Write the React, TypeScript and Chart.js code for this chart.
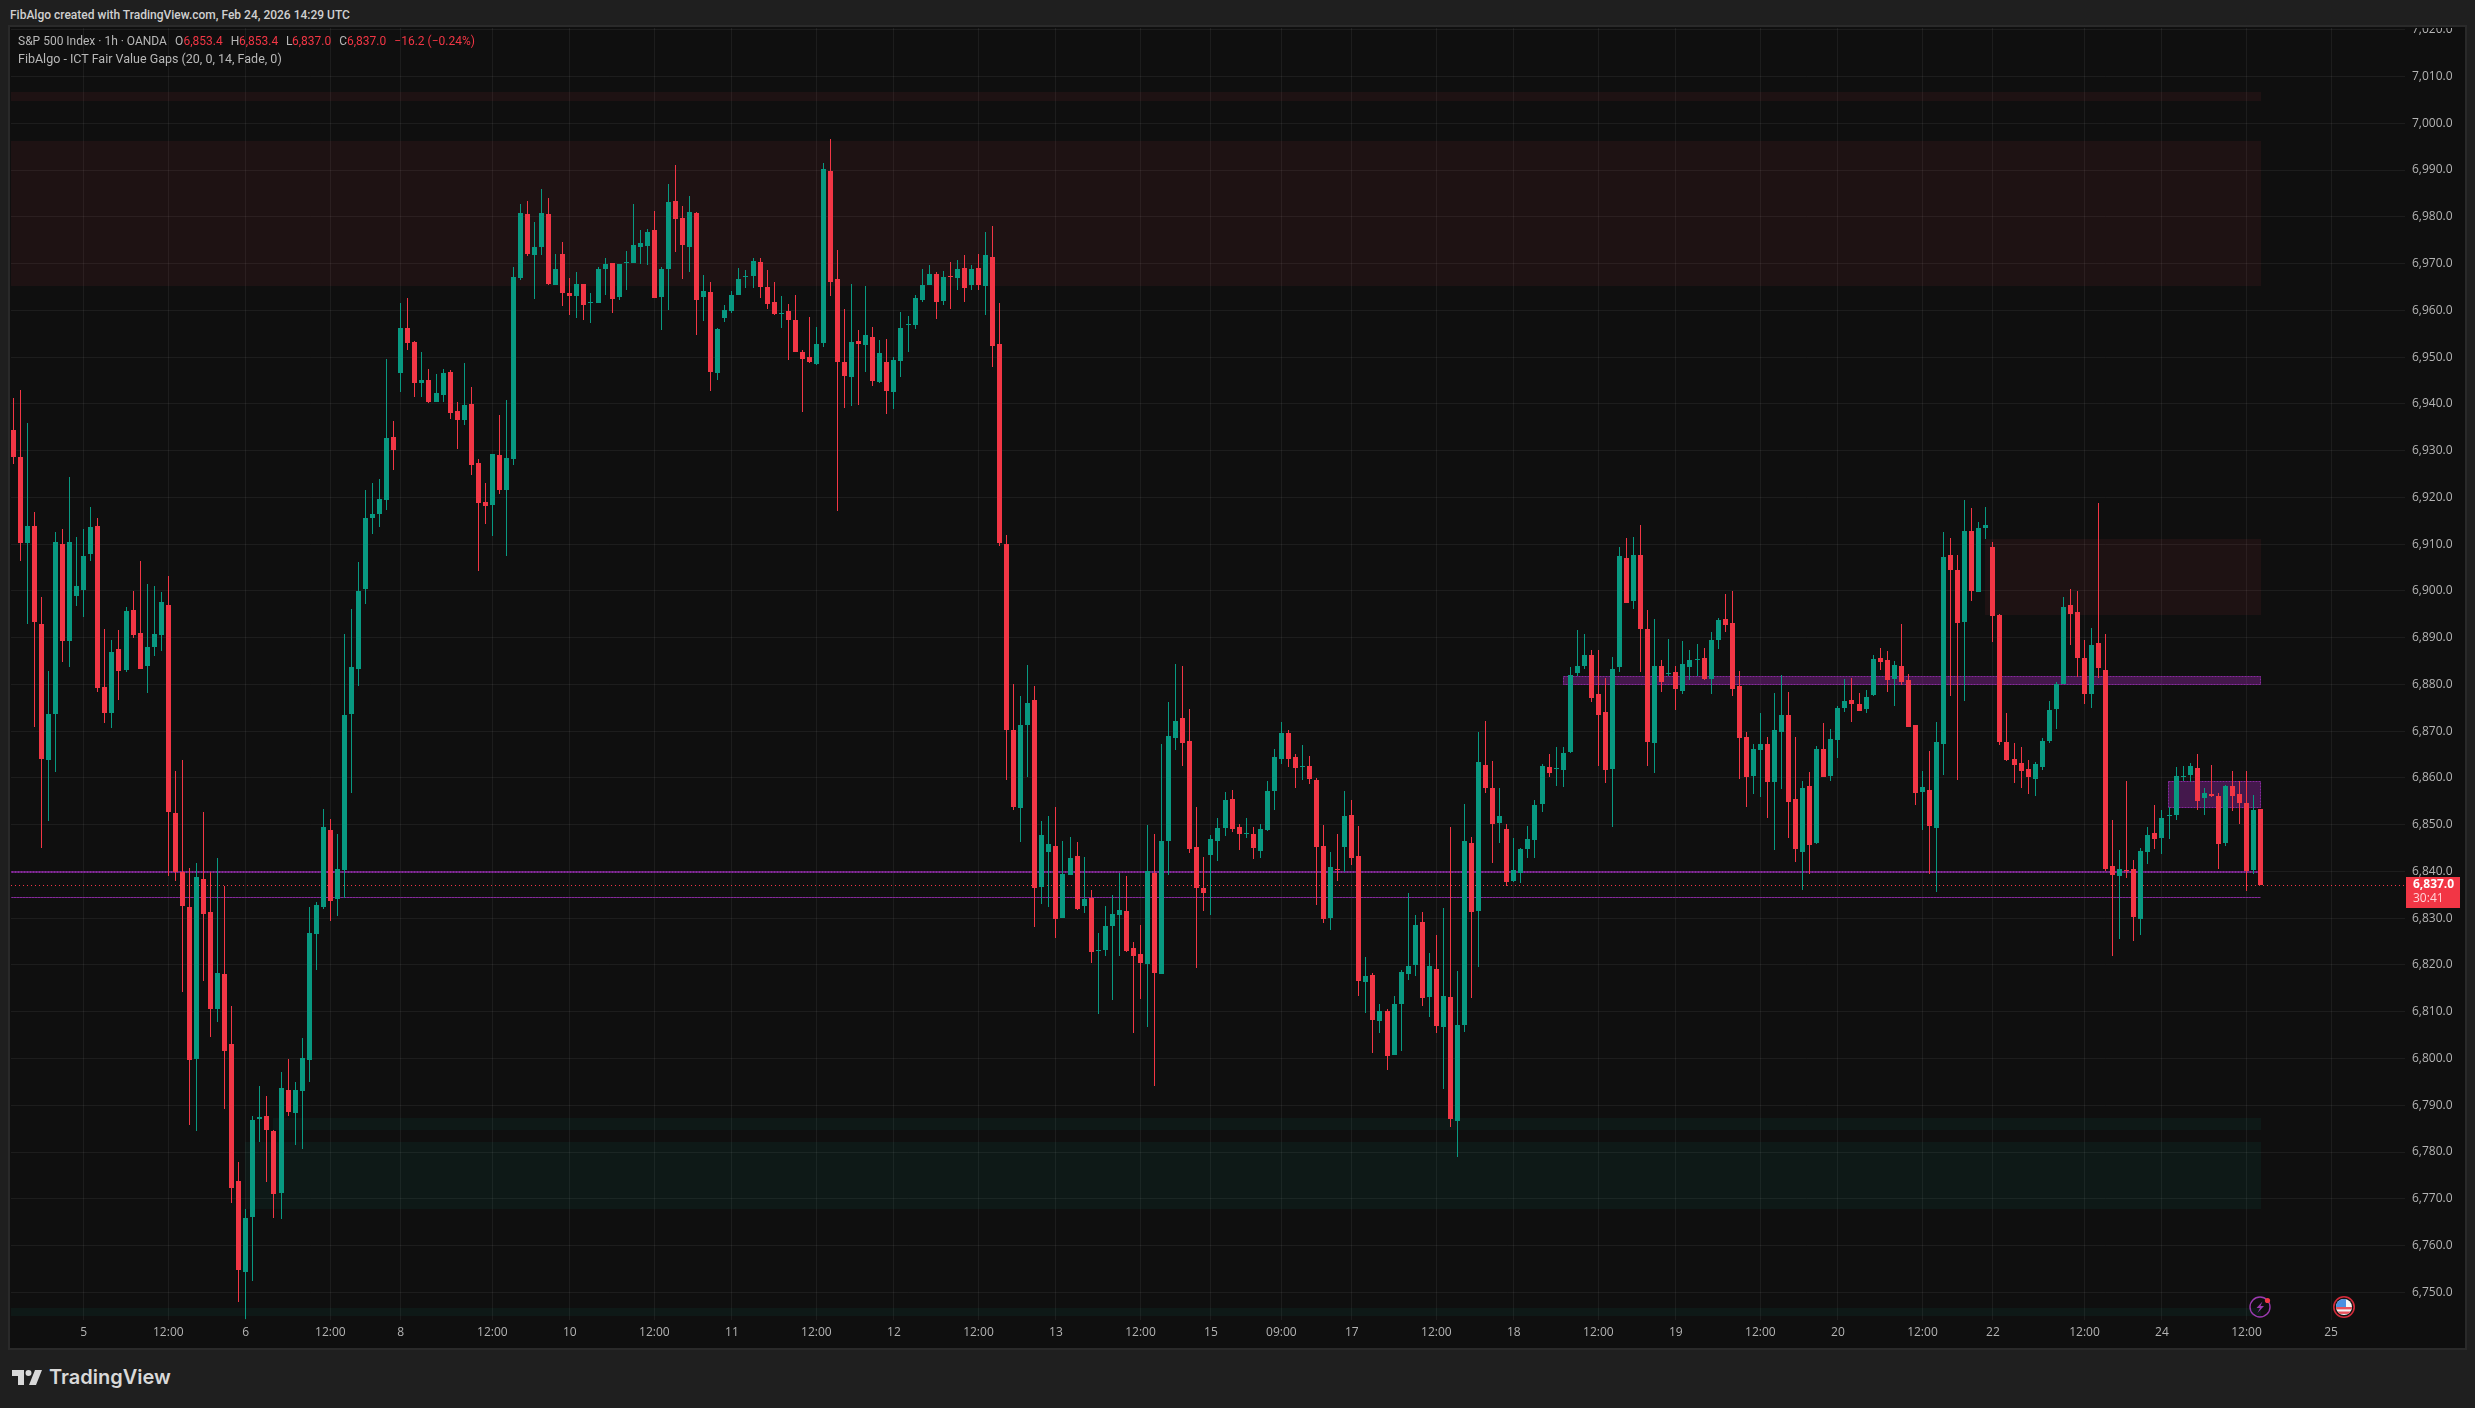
import React, { useEffect, useRef } from "react";
import { Chart, registerables } from "chart.js";

Chart.register(...registerables);

const highs = [
  6941.3,6942.9,6936,6916.9,6898.6,6882.9,6912.6,6913.2,6924.4,6911.5,
  6913.2,6918,6915.6,6891.9,6889.4,6891.6,6896.5,6900,6906.4,6901.4,
  6901,6899.7,6903.2,6861.5,6863.8,6840.8,6841.8,6852.8,6839.9,6842.8,
  6836.9,6811.2,6777.9,6767.8,6787.8,6794.1,6792,6784.7,6797.1,6799.8,
  6794.9,6804.3,6832.4,6833.4,6853.3,6851.3,6848,6890.8,6896.1,6906.2,
  6921.5,6923,6924,6949.6,6936.4,6961.6,6962.6,6953.4,6951.1,6947.5,
  6946.4,6947.5,6947.2,6940.4,6948.7,6943.6,6928.2,6923.1,6929.3,6937.6,
  6940.8,6969.3,6982.8,6983.4,6978.9,6986,6984,6972.1,6974.6,6966.9,
  6968.2,6965.6,6963.7,6969.3,6971.2,6970.1,6969.9,6972.7,6982.8,6977.2,
  6977.4,6981.3,6969.3,6987,6991.1,6982.3,6984.5,6981,6967.6,6966.1,
  6956.2,6961.2,6964.2,6969,6968.6,6971.2,6971.2,6968.6,6966.1,6963.1,
  6961.4,6963.3,6951.5,6958.6,6956.4,6991.5,6996.7,6972.9,6960.3,6965.6,
  6955.8,6965.2,6956.5,6953.7,6953.9,6950,6959.7,6958.8,6963.3,6968.9,
  6969.7,6968.2,6968.4,6970.4,6970.8,6971.8,6969.7,6972.1,6976.8,6978,
  6961.6,6911.9,6880.1,6877.6,6884.2,6879.7,6850.8,6851.9,6853.8,6846.6,
  6847.4,6846.3,6843.1,6836.1,6826.9,6832.6,6835,6839.7,6839.1,6825,
  6828.6,6850,6848,6867.3,6876.3,6884.4,6884,6874.8,6853.8,6843.1,
  6847.8,6851.5,6857,6857.5,6850.2,6851.5,6849.6,6850.2,6859.4,6866.2,
  6872,6870.3,6865.2,6867.1,6864.7,6860,6850,6844.2,6848,6857.2,
  6855.3,6849.8,6821.8,6818.3,6811.7,6810.6,6813.4,6819,6835.4,6830.7,
  6831.4,6822.6,6826.5,6832.2,6849.6,6818.8,6854.5,6847.4,6869.9,6872.2,
  6863.7,6857.8,6850.1,6847.1,6845,6849.7,6855.2,6862.9,6865.1,6866.6,
  6866.6,6883.7,6891.6,6890.7,6887.3,6887.3,6881.3,6885.8,6909.4,6911.3,
  6911.5,6914,6895.9,6893.9,6885.2,6889.7,6883.9,6889.3,6887.3,6888.6,
  6887.8,6891.2,6894.2,6899.3,6899.9,6882.8,6869.8,6867.2,6873.9,6868.7,
  6878.1,6882,6878.3,6868.7,6859.3,6861.2,6866.8,6871.7,6870.4,6875.4,
  6881.1,6881.3,6878.1,6878.8,6886.3,6887.8,6887.1,6885,6892.9,6882.2,
  6871.3,6861.4,6865.7,6871.9,6912.6,6911.3,6907.6,6919.4,6917.7,6914.7,
  6917.9,6910.4,6895,6873.9,6867.5,6866.6,6863.8,6863.4,6868.5,6876.4,
  6880.5,6898.7,6900.4,6900,6889.5,6892.1,6918.8,6890.8,6851,6844.6,
  6859.3,6842.4,6845,6849.5,6854.2,6853.1,6853.8,6862.3,6862.5,6863.2,
  6865.1,6857.8,6862.8,6856.8,6858.5,6861.5,6859.3,6861.5,6856.3,6853.4,
];

const bodyTops = [
  6934.5,6928.6,6913.9,6913.9,6892.9,6873.6,6910.4,6910,6910.4,6901,
  6907.4,6913.6,6913.9,6879.5,6886.9,6887.5,6895.7,6895.9,6890.9,6887.9,
  6890.8,6897.6,6897,6852.5,6839.9,6832.4,6838.8,6838.4,6831.3,6818.3,
  6818.1,6803.2,6773.8,6765.9,6786.9,6787.5,6787.7,6784.4,6793.8,6793.3,
  6793.3,6800.1,6826.8,6832.8,6849.5,6848.8,6840.5,6873.5,6883.7,6900,
  6915.6,6916.4,6919.6,6932.7,6933,6956.2,6956.2,6953.2,6945.1,6945.1,
  6942.3,6946.6,6946.8,6938.5,6939.8,6940,6927.4,6919,6929.3,6929.1,
  6928.4,6967.1,6980.8,6980.6,6973.6,6980.8,6980.6,6968.9,6972.1,6963.7,
  6965.6,6965.6,6961.8,6968.9,6969.9,6970.1,6969.9,6970.4,6974,6974.4,
  6976.8,6977.2,6968.9,6983.2,6983.4,6979.8,6981,6980.8,6964.1,6963.9,
  6956,6960.1,6963.3,6966.7,6967.4,6970.6,6970.4,6965,6961.8,6959.4,
  6959.9,6958,6951.1,6950,6952.8,6990.2,6989.8,6966.7,6949,6953.2,
  6953.5,6954.7,6954.3,6950.9,6949,6949.4,6956.2,6957.1,6962.7,6965.4,
  6967.8,6967.8,6967.1,6967.4,6968.9,6969.1,6968.9,6969.1,6971.8,6971.4,
  6952.8,6910,6870.3,6871.4,6876.1,6876.7,6847.8,6845.9,6845.5,6839.5,
  6842.9,6843.4,6834.2,6834.4,6823.3,6828.4,6830.9,6831.8,6831.6,6823.7,
  6822.4,6840.1,6839.6,6846.6,6869,6872.2,6872.9,6867.9,6845.3,6836.5,
  6847,6849.3,6855.3,6855.5,6849.5,6848.3,6848,6849.1,6857.2,6864.5,
  6869.7,6869.7,6864.5,6862.6,6862.6,6859.6,6845.5,6841,6840.6,6851.9,
  6852.1,6843.4,6817.7,6817.9,6810.2,6810.2,6811.7,6818.6,6819.8,6828.6,
  6829.2,6819.8,6819.2,6813.4,6813.2,6807.2,6846.6,6846.1,6863.5,6862.8,
  6857.9,6851.8,6849,6840.3,6844.8,6846.9,6854.2,6862.5,6862.3,6862.1,
  6865.3,6882,6883.9,6886.3,6886.3,6877.9,6874.1,6883.3,6907.4,6907,
  6907.6,6907.6,6891.8,6883.9,6883.9,6882.4,6882.6,6884.3,6885.2,6885.4,
  6885.6,6889.5,6893.7,6894,6893.1,6879.6,6868.7,6866.2,6867.2,6867.2,
  6870.2,6873.4,6873.4,6855.5,6857.8,6858.2,6866.2,6866.2,6868.3,6874.9,
  6876.4,6876.6,6875.8,6877.3,6885.4,6885.6,6885.2,6884.1,6883.9,6880.9,
  6871.3,6858,6857.4,6867.7,6907.2,6907.6,6904.4,6912.8,6912.8,6913.4,
  6914,6909.4,6894.8,6867.7,6864,6863.2,6861.9,6863,6867.9,6874.5,
  6880.1,6896.5,6897,6895.5,6885.6,6888.4,6888.8,6883.1,6841.2,6840.5,
  6840.3,6840.5,6844.4,6847.8,6848.2,6851.4,6852.1,6860.4,6860.4,6862.5,
  6862.1,6856.8,6856.6,6856.1,6858.3,6858.3,6856.6,6854.6,6853.1,6853.4,
];

const bodyBottoms = [
  6928.6,6910.2,6910.2,6893.4,6864.1,6863.8,6873.6,6889.3,6889.3,6898.9,
  6900.2,6907.9,6879.2,6873.9,6873.9,6882.9,6883,6890.5,6883.4,6884,
  6887.9,6890.5,6852.8,6839.9,6832.6,6799.7,6799.8,6830.9,6810.6,6810.6,
  6801.6,6772.4,6754.7,6754.3,6766.1,6787,6784.7,6771,6771.2,6788.5,
  6788.4,6793,6799.7,6826.6,6832.4,6833.7,6834.1,6840.3,6873.6,6883.4,
  6900.4,6915.6,6916.4,6919.5,6930.1,6946.6,6953,6944.5,6944.5,6940.4,
  6940.4,6941.9,6938,6936.5,6936.5,6926.9,6918.8,6918.2,6918.4,6921.6,
  6921.6,6928.2,6966.9,6972.1,6971.8,6973.6,6965.6,6965.4,6963.7,6963.1,
  6963.1,6961.2,6961.5,6961.6,6968.9,6962.4,6962.9,6970.1,6970.1,6973.6,
  6973.8,6962.7,6962.9,6968.9,6979.5,6974,6973.6,6962.2,6962.9,6946.8,
  6946.6,6958.4,6959.8,6963.3,6967.1,6967.4,6965,6961.4,6959.2,6959.2,
  6958,6951.1,6949.6,6949,6948.5,6953,6966.1,6949,6946,6945.8,
  6952.8,6952.6,6944.9,6944.7,6942.8,6942.6,6949.2,6956.9,6956.9,6962.2,
  6965.4,6961.8,6962,6967.1,6966.9,6964.8,6965.4,6965.4,6965.2,6952.4,
  6910.2,6870.3,6853.8,6853.6,6871.4,6836.5,6836.7,6844.2,6829.9,6830.1,
  6839.3,6832,6832.7,6822.8,6823,6823.3,6828.4,6830.7,6823,6822,
  6820.5,6820.3,6818.3,6818.1,6846.6,6868.6,6867.5,6844.8,6836.5,6835.4,
  6843.6,6846.6,6849.3,6849.1,6848,6848,6845.1,6844.4,6848.9,6857.2,
  6864.1,6864.1,6862.2,6862.4,6859.8,6845.3,6829.9,6830.1,6840.4,6845.3,
  6842.9,6816.6,6816.4,6808.3,6808.1,6800.6,6800.8,6811.7,6818.1,6820,
  6813,6813.2,6807,6806.8,6787.1,6786.7,6807.2,6831.4,6831.6,6857.9,
  6850.2,6850.3,6837.7,6837.9,6839.6,6844.8,6846.7,6854.4,6861,6861.9,
  6861.7,6865.5,6882.4,6883.9,6877.1,6873.4,6861.7,6861.9,6883.7,6897.4,
  6897.8,6891.8,6867.7,6867.4,6880.5,6882.2,6879,6878.6,6883.7,6885.2,
  6881.1,6881.1,6889.5,6892.7,6879,6868.5,6860.2,6860.4,6865.9,6859.1,
  6859.1,6869.8,6854.8,6844.8,6844.1,6845.6,6846,6860.2,6860.4,6868.1,
  6874.9,6875.8,6874.3,6874.7,6877.7,6884.8,6880.9,6881.1,6880.5,6870.9,
  6856.7,6857,6849.7,6849.3,6867.2,6904.4,6893.1,6893.3,6899.9,6899.7,
  6913.4,6894.6,6867.7,6863.8,6862.8,6861.5,6860.2,6859.8,6862.3,6867.9,
  6874.7,6880.1,6895,6885.6,6877.9,6877.9,6883.5,6840.5,6839.2,6839,
  6840.1,6830.3,6829.8,6844.2,6846.9,6847.2,6851.9,6852.1,6860.2,6860.6,
  6855.1,6855.7,6856.1,6845.9,6846.1,6856.1,6854.6,6840.1,6840.3,6837,
];

const lows = [
  6927.2,6906.4,6892.9,6870.9,6845.1,6850.8,6861.3,6884.9,6883.7,6896.8,
  6894.4,6906.4,6878.4,6871.7,6870.6,6876.6,6882.6,6890,6883.4,6878.1,
  6886,6887.1,6839,6837.9,6814.3,6785.8,6784.4,6816.5,6804.7,6807.9,
  6789.2,6769,6747.9,6744.2,6752.4,6782.1,6773.5,6766,6765.7,6787.6,
  6781.4,6780.6,6794.9,6818.9,6832,6829.4,6830.5,6834.3,6856.8,6879.6,
  6897.2,6912.2,6913.6,6917.4,6925.9,6942.5,6951.5,6941.5,6941.5,6940.2,
  6940.4,6940.4,6936.8,6930.3,6935.5,6924.8,6904.3,6914.3,6911.7,6920.7,
  6907.5,6926.9,6966.5,6971.6,6962.4,6971.8,6965.4,6965.4,6960.9,6959,
  6958.4,6957.9,6957.3,6961.6,6963.3,6959.4,6962.2,6964.4,6970.1,6969.9,
  6969.7,6962.7,6955.8,6960.1,6972.5,6966.7,6968.2,6954.7,6957.7,6942.8,
  6945.1,6957.5,6959.4,6963.3,6964.8,6964.8,6962.7,6960.3,6959,6956.2,
  6949.4,6951.1,6938.3,6948.8,6948.3,6952.2,6963.1,6917.1,6939.1,6939.6,
  6939.8,6946.8,6943.8,6944.5,6937.9,6938.9,6945.8,6951.1,6956,6961.8,
  6965.4,6958.2,6961.2,6960.3,6964.4,6961.8,6964.4,6964.4,6959,6947.9,
  6909.6,6859.6,6853.2,6846.3,6860.2,6828.2,6833.1,6832.4,6825.8,6830.1,
  6839.3,6831.8,6831.2,6820.5,6809.6,6822,6812.6,6822,6822.8,6805.5,
  6812.8,6806.8,6794.2,6818.1,6839.3,6866,6862.6,6844,6819.4,6831.6,
  6830.7,6842.3,6847.6,6848.5,6844.6,6847.2,6842.7,6842.9,6848.7,6853.2,
  6863,6862.4,6857.9,6859.6,6858.7,6832.9,6829,6827.5,6838,6839.9,
  6841.4,6813.4,6809.8,6801.2,6805.5,6797.6,6800.8,6801.7,6816.8,6817.7,
  6811.3,6808.9,6805.5,6793.5,6785.4,6779,6805.7,6813,6819.6,6856.8,
  6841.9,6846.1,6836.9,6837.7,6837.5,6842.9,6842.9,6852.7,6860.2,6858.2,
  6858,6865.3,6881.8,6883.3,6876.2,6862.5,6858.9,6849.5,6882.6,6897.4,
  6896.1,6882.6,6862.5,6861,6878.3,6881.8,6874.5,6877.9,6880.9,6881.8,
  6880.9,6877.9,6887.5,6891.2,6877.5,6859.7,6853.8,6856.5,6855.9,6851.4,
  6844.6,6857.6,6847.1,6842,6836,6839.4,6845.8,6860.2,6859.3,6864.2,
  6874.1,6871.9,6874.3,6873.9,6877.5,6883.1,6878.3,6875.4,6879.8,6870.9,
  6854.2,6848.8,6839.4,6835.6,6860.6,6877.5,6859.5,6876.4,6897.8,6899.7,
  6911.1,6889,6867,6863.6,6858.9,6857.8,6856.6,6856.1,6861.7,6867.5,
  6870.5,6880.1,6888.4,6881.6,6875.8,6875,6881.4,6840.1,6821.9,6825.6,
  6838.6,6825.1,6826.4,6841.6,6844.8,6843.7,6846.9,6851,6859.3,6859.1,
  6853.1,6852.1,6855.9,6840.5,6845.4,6852.9,6850.1,6835.8,6839.5,6837,
];

const directions = [
  "RRGRRGGRGG","GGRRGRGRRG","GGRRRRGRRG","RRRGGGRRGR","GGGGGRGGGG",
  "GGGGRGRRGR","GGRRGRRRGR","GGGRGGRGRR","GRGGGRGGGG","GRGGRRGRGR",
  "GGGGGGRRRG","RRRRGGRRRG","RGRGRGGGGG","GRGRGRGRGR","RRRGGRGGRG",
  "GRGRGGGGRR","RGRGGGRRRR","GGGRRGRGGG","GRRGRRRGRG","RRGRGRGGGG",
  "RGRGRGGRGR","RGRGGGGGRG","GGGGRRRGGR","GRRGRGRGGG","RGGRRRRGGR",
  "GGRRGRGRGG","GRRGGRRGRR","RGRGGRRGRG","GRRRRRRGGG","GGRRRGRRRG",
  "RRGGRGGGGG","RGRRGRRRGR",
].join("");

const priceTicks = [
  6750,6760,6770,6780,6790,6800,6810,6820,6830,6840,6850,6860,6870,6880,
  6890,6900,6910,6920,6930,6940,6950,6960,6970,6980,6990,7000,7010,7020,
];
const timeTickBars = [
  10,22,33,45,55,68,79,91,102,114,125,137,148,160,170,180,
  190,202,213,225,236,248,259,271,281,294,305,317,329,
];
const timeTickLabels = [
  "5","12:00","6","12:00","8","12:00","10","12:00","11","12:00","12","12:00",
  "13","12:00","15","09:00","17","12:00","18","12:00","19","12:00","20","12:00",
  "22","12:00","24","12:00","25",
];

const zoneStartBars = [-0.33,-0.33,279.9,220,305.9,-0.33,-0.33,36.9,32.9,-0.33];
const zoneEndBar = 319.1;
const zoneUppers = [7006.7,6996.3,6911.1,6881.8,6859.3,6840.2,6834.5,6787.3,6782.1,6746.6];
const zoneLowers = [7004.8,6965.3,6894.8,6879.9,6853.6,6839.6,6834.5,6784.8,6767.9,6745.0];
const zoneKinds = ["bear","bear","bear","mid","mid","mid","mid","bull","bull","bull"];

const lastPrice = 6837;
const countdown = "30:41";

const RED = "#f23645";
const GREEN = "#089981";
const GRID = "rgba(255,255,255,0.06)";
const ZONE_FILL: Record<string, string> = {
  bear: "rgba(242,54,69,0.065)",
  bull: "rgba(8,153,129,0.08)",
  mid: "rgba(156,39,176,0.38)",
};
const AXIS_FONT = "'Open Sans', sans-serif";

const marketPlugin = {
  id: "market",
  beforeDatasetsDraw(chart: any) {
    const { ctx, scales, chartArea } = chart;
    const xs = scales.x;
    const ys = scales.y;
    ctx.save();
    ctx.beginPath();
    ctx.rect(chartArea.left, chartArea.top, chartArea.right - chartArea.left, chartArea.bottom - chartArea.top);
    ctx.clip();
    const right = Math.round(xs.getPixelForValue(zoneEndBar));
    zoneKinds.forEach((kind, i) => {
      const left = Math.round(xs.getPixelForValue(zoneStartBars[i]));
      const top = Math.round(ys.getPixelForValue(zoneUppers[i]));
      const bottom = Math.round(ys.getPixelForValue(zoneLowers[i]));
      ctx.fillStyle = ZONE_FILL[kind];
      ctx.fillRect(left, top, right - left, bottom - top);
      if (kind === "mid") {
        ctx.strokeStyle = "#862a9c";
        ctx.lineWidth = 1;
        ctx.setLineDash([2, 1]);
        ctx.strokeRect(left + 0.5, top + 0.5, right - left - 1, Math.max(bottom - top - 1, 0));
        ctx.setLineDash([]);
      }
    });
    const py = Math.round(ys.getPixelForValue(lastPrice)) + 0.5;
    ctx.strokeStyle = RED;
    ctx.lineWidth = 1;
    ctx.setLineDash([1, 3]);
    ctx.beginPath();
    ctx.moveTo(chartArea.left, py);
    ctx.lineTo(chartArea.right, py);
    ctx.stroke();
    ctx.setLineDash([]);
    ctx.restore();

    chart.getSortedVisibleDatasetMetas().forEach((meta: any) => {
      meta.data.forEach((el: any) => {
        el.x = Math.floor(el.x) + 0.5;
        el.y = Math.round(el.y);
        el.base = Math.round(el.base);
        if (el.base === el.y) el.base = el.y + 1;
      });
    });
  },
  afterDraw(chart: any) {
    const { ctx, scales, chartArea } = chart;
    const y = scales.y.getPixelForValue(lastPrice);
    const left = chartArea.right + 1;
    const top = Math.round(y - 8.5);
    ctx.save();
    ctx.fillStyle = RED;
    ctx.fillRect(left, top, 54, 31);
    ctx.textAlign = "left";
    ctx.textBaseline = "middle";
    ctx.font = `700 12px ${AXIS_FONT}`;
    ctx.fillStyle = "#ffffff";
    ctx.fillText(lastPrice.toLocaleString("en-US", { minimumFractionDigits: 1 }), left + 7, top + 8);
    ctx.font = `400 12px ${AXIS_FONT}`;
    ctx.fillStyle = "#ffd3d7";
    ctx.fillText(countdown, left + 7, top + 22);
    ctx.restore();
  },
};

const legendText: React.CSSProperties = {
  position: "absolute",
  whiteSpace: "pre",
  font: "400 12px Roboto, sans-serif",
  color: "#b8b8b8",
  lineHeight: "16px",
};

function Abs({ left, top, color, size, children }: any) {
  return <span style={{ ...legendText, left, top, color: color || "#b8b8b8", fontSize: size || 12 }}>{children}</span>;
}

export default function App() {
  const canvasRef = useRef<HTMLCanvasElement>(null);

  useEffect(() => {
    const candleColors = highs.map((_, i) => (directions[i] === "G" ? GREEN : RED));
    const chart = new Chart(canvasRef.current as HTMLCanvasElement, {
      type: "bar",
      data: {
        datasets: [
          {
            label: "Wicks",
            data: highs.map((h, i) => ({ x: i, y: [lows[i], h] })),
            backgroundColor: candleColors,
            barThickness: 1,
            grouped: false,
            inflateAmount: 0,
            order: 2,
          } as any,
          {
            label: "Bodies",
            data: bodyTops.map((t, i) => ({ x: i, y: [bodyBottoms[i], t] })),
            backgroundColor: candleColors,
            barThickness: 5,
            grouped: false,
            inflateAmount: 0,
            order: 1,
          } as any,
        ],
      },
      options: {
        responsive: false,
        devicePixelRatio: 1,
        animation: false,
        events: [],
        layout: { padding: 0 },
        plugins: { legend: { display: false }, tooltip: { enabled: false }, title: { display: false } },
        scales: {
          x: {
            type: "linear",
            min: -0.33,
            max: 339.5,
            offset: false,
            grid: { offset: false, color: GRID, drawTicks: false, lineWidth: 1 },
            border: { display: false },
            afterBuildTicks: (axis: any) => {
              axis.ticks = timeTickBars.map((value) => ({ value }));
            },
            afterFit: (axis: any) => {
              axis.height = 28;
              axis.paddingLeft = 0;
              axis.paddingRight = 0;
            },
            ticks: {
              autoSkip: false,
              maxRotation: 0,
              padding: 5,
              color: "#b4b4b4",
              font: { family: AXIS_FONT, size: 12 },
              callback: (value: any) => timeTickLabels[timeTickBars.indexOf(value)] ?? "",
            },
          },
          y: {
            type: "linear",
            position: "right",
            min: 6744.08,
            max: 7020.38,
            grid: { color: GRID, drawTicks: false, lineWidth: 1 },
            border: { display: false },
            afterBuildTicks: (axis: any) => {
              axis.ticks = priceTicks.map((value) => ({ value }));
            },
            afterFit: (axis: any) => {
              axis.width = 60;
              axis.paddingTop = 0;
              axis.paddingBottom = 0;
            },
            ticks: {
              autoSkip: false,
              padding: 7,
              color: "#b4b4b4",
              font: { family: AXIS_FONT, size: 12 },
              callback: (value: any) =>
                Number(value).toLocaleString("en-US", { minimumFractionDigits: 1, maximumFractionDigits: 1 }),
            },
          },
        },
      } as any,
      plugins: [marketPlugin],
    });
    return () => chart.destroy();
  }, []);

  return (
    <div style={{ position: "fixed", left: 0, top: 0, width: 2475, height: 1408, background: "#1f1f1f", overflow: "hidden" }}>
      <div style={{ position: "absolute", left: 10, top: 7, whiteSpace: "pre", font: "500 12px Roboto, sans-serif", color: "#d0d0d0", lineHeight: "16px" }}>
        FibAlgo created with TradingView.com, Feb 24, 2026 14:29 UTC
      </div>
      <div style={{ position: "absolute", left: 10, top: 27, width: 2455, height: 1321, background: "#0f0f0f", outline: "2px solid #2a2a2a" }} />
      <canvas
        ref={canvasRef}
        width={2454}
        height={1320}
        style={{ position: "absolute", left: 11, top: 28, width: 2454, height: 1320, display: "block" }}
      />
      <Abs left={18} top={33}>S&amp;P 500 Index · 1h · OANDA</Abs>
      <Abs left={175} top={33}>O</Abs>
      <Abs left={183.5} top={33} color={RED}>6,853.4</Abs>
      <Abs left={230.7} top={33}>H</Abs>
      <Abs left={239} top={33} color={RED}>6,853.4</Abs>
      <Abs left={286} top={33}>L</Abs>
      <Abs left={292} top={33} color={RED}>6,837.0</Abs>
      <Abs left={339.3} top={33}>C</Abs>
      <Abs left={347} top={33} color={RED}>6,837.0</Abs>
      <Abs left={394.3} top={33} color={RED}>−16.2 (−0.24%)</Abs>
      <Abs left={18} top={51} size={12.5}>FibAlgo - ICT Fair Value Gaps (20, 0, 14, Fade, 0)</Abs>

      <svg width={30} height={30} viewBox="0 0 30 30" style={{ position: "absolute", left: 2245, top: 1292 }}>
        <circle cx={15} cy={15} r={10} fill="none" stroke="#9c3ab0" strokeWidth={1.4} />
        <path d="M17.5 9.5 L11.5 16 H15 L12.5 21 L19 14 H15.5 Z" fill="#9c3ab0" />
        <circle cx={22.5} cy={8.5} r={2.6} fill="#f23645" />
      </svg>
      <svg width={30} height={30} viewBox="0 0 30 30" style={{ position: "absolute", left: 2329, top: 1292 }}>
        <defs>
          <clipPath id="flagClip"><circle cx={15} cy={15} r={8} /></clipPath>
        </defs>
        <circle cx={15} cy={15} r={10.2} fill="#141414" stroke="#d42a3a" strokeWidth={1.6} />
        <g clipPath="url(#flagClip)">
          <rect x={6} y={7} width={18} height={16} fill="#f4f4f4" />
          <rect x={6} y={15} width={18} height={2.4} fill="#e8505a" />
          <rect x={6} y={19.5} width={18} height={2.4} fill="#e8505a" />
          <rect x={6} y={7} width={11} height={8} fill="#4a90e2" />
        </g>
      </svg>

      <svg width={30} height={15} viewBox="2 6 30 15" style={{ position: "absolute", left: 12, top: 1370 }}>
        <path d="M14 6H2v6h6v9h6V6Zm12 15h-7l6-15h7l-6 15Zm-7.5-9a3 3 0 1 0 0-6 3 3 0 0 0 0 6Z" fill="#d9d9d9" />
      </svg>
      <div style={{ position: "absolute", left: 49, top: 1364, whiteSpace: "pre", font: "600 20px Inter, sans-serif", color: "#d9d9d9", lineHeight: "26px" }}>
        TradingView
      </div>
    </div>
  );
}
